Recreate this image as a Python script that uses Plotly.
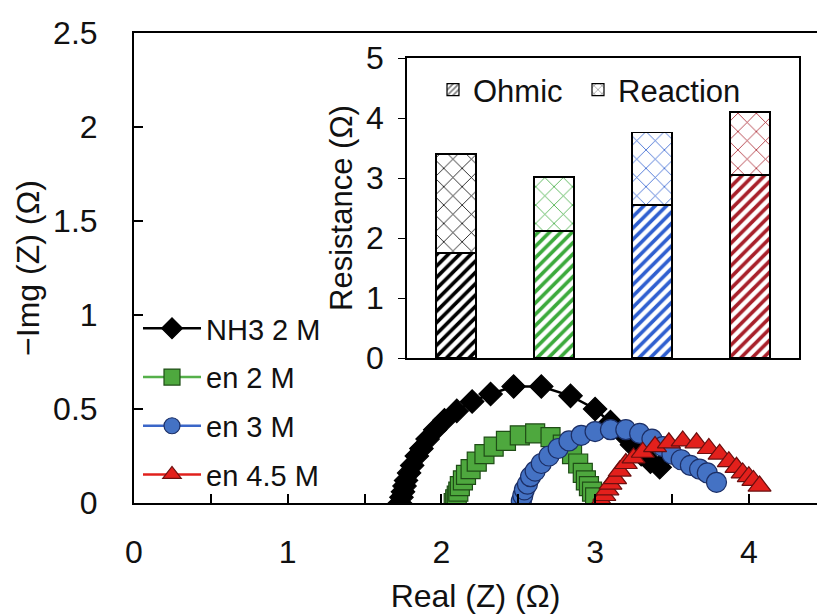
import plotly.graph_objects as go

W, H = 817, 614

# ---------------- data ----------------
series_names = ["NH3 2 M", "en 2 M", "en 3 M", "en 4.5 M"]

nh3_x = [1.73, 1.74, 1.75, 1.76, 1.77, 1.79, 1.81, 1.84, 1.87, 1.91, 1.96, 2.02, 2.10, 2.20, 2.32,
         2.47, 2.65, 2.84, 3.00, 3.10, 3.18, 3.24, 3.30, 3.36, 3.42]
nh3_y = [0.00, 0.03, 0.06, 0.09, 0.12, 0.16, 0.20, 0.25, 0.29, 0.34, 0.39, 0.44, 0.49, 0.54, 0.58,
         0.62, 0.62, 0.57, 0.50, 0.43, 0.37, 0.31, 0.26, 0.22, 0.19]

en2_x = [2.08, 2.09, 2.10, 2.11, 2.12, 2.14, 2.16, 2.19, 2.23, 2.28, 2.34, 2.42, 2.51, 2.61, 2.71,
         2.79, 2.85, 2.89, 2.92, 2.94, 2.96, 2.98, 3.00]
en2_y = [0.00, 0.02, 0.04, 0.06, 0.09, 0.12, 0.15, 0.18, 0.22, 0.26, 0.30, 0.33, 0.36, 0.37, 0.35,
         0.31, 0.26, 0.21, 0.16, 0.12, 0.09, 0.06, 0.03]

en3_x = [2.52, 2.53, 2.54, 2.56, 2.58, 2.61, 2.65, 2.70, 2.76, 2.83, 2.91, 3.00, 3.10, 3.20, 3.29,
         3.37, 3.44, 3.50, 3.56, 3.62, 3.68, 3.73, 3.79]
en3_y = [0.01, 0.04, 0.07, 0.10, 0.14, 0.17, 0.21, 0.25, 0.29, 0.33, 0.36, 0.38, 0.39, 0.39, 0.37,
         0.34, 0.30, 0.26, 0.23, 0.20, 0.18, 0.16, 0.11]

en45_x = [3.04, 3.06, 3.08, 3.10, 3.13, 3.16, 3.20, 3.25, 3.31, 3.39, 3.48, 3.57, 3.66, 3.74, 3.81,
          3.87, 3.92, 3.96, 4.00, 4.03, 4.07]
en45_y = [0.01, 0.04, 0.07, 0.10, 0.13, 0.17, 0.21, 0.24, 0.27, 0.30, 0.32, 0.33, 0.32, 0.29, 0.26,
          0.22, 0.19, 0.16, 0.14, 0.12, 0.09]

ohmic = [1.75, 2.12, 2.55, 3.05]
reaction = [1.65, 0.90, 1.21, 1.05]

main_xticks = [0, 1, 2, 3, 4]
main_yticks = [0, 0.5, 1, 1.5, 2, 2.5]
inset_yticks = [0, 1, 2, 3, 4, 5]

# ---------------- styles ----------------
FONT = "Liberation Sans, Arial, sans-serif"
TXT = "#111111"
line_cols = ["#000000", "#55b04a", "#3a66c8", "#e0201c"]
fill_cols = ["#000000", "#4ea83e", "#4472c4", "#e3201c"]
edge_cols = ["#000000", "#1f4d16", "#1c2f66", "#6b0f0f"]
symbols = ["diamond", "square", "circle", "triangle-up"]
msizes = [18, 19, 20, 20]
bar_cols = ["#000000", "#3caa3c", "#2f5fd0", "#a8202a"]


def px(x):
    return x / W


def py(y):
    return 1 - y / H


fig = go.Figure()

xs = [nh3_x, en2_x, en3_x, en45_x]
ys = [nh3_y, en2_y, en3_y, en45_y]
for i, name in enumerate(series_names):
    fig.add_trace(go.Scatter(
        x=xs[i], y=ys[i], name=name, mode="lines+markers",
        line=dict(color=line_cols[i], width=2.5),
        marker=dict(symbol=symbols[i], size=msizes[i], color=fill_cols[i],
                    line=dict(color=edge_cols[i], width=1.2)),
        legendgroup=name, legend="legend",
    ))

# inset stacked bars
fig.add_trace(go.Bar(
    x=series_names, y=ohmic, xaxis="x2", yaxis="y2", width=0.41, showlegend=False,
    marker=dict(color="white", line=dict(color="black", width=1.5),
                pattern=dict(shape="/", fgcolor=bar_cols, bgcolor="white",
                             size=8, solidity=0.45, fillmode="replace")),
))
fig.add_trace(go.Bar(
    x=series_names, y=reaction, xaxis="x2", yaxis="y2", width=0.41, showlegend=False,
    marker=dict(color="white", line=dict(color="black", width=1.5),
                pattern=dict(shape="x", fgcolor=bar_cols, bgcolor="white",
                             size=13, solidity=0.12, fillmode="replace")),
))
# legend entries for inset (black patterns)
fig.add_trace(go.Bar(
    x=[None], y=[None], xaxis="x2", yaxis="y2", name="Ohmic", legend="legend2",
    marker=dict(color="white", line=dict(color="black", width=1.2),
                pattern=dict(shape="/", fgcolor="black", bgcolor="white", size=5, solidity=0.45)),
))
fig.add_trace(go.Bar(
    x=[None], y=[None], xaxis="x2", yaxis="y2", name="Reaction", legend="legend3",
    marker=dict(color="white", line=dict(color="black", width=1.2),
                pattern=dict(shape="x", fgcolor="black", bgcolor="white", size=7, solidity=0.2)),
))

fig.update_layout(
    width=W, height=H,
    margin=dict(l=0, r=0, t=0, b=0, autoexpand=False),
    paper_bgcolor="white", plot_bgcolor="white",
    font=dict(family=FONT, color=TXT, size=32),
    barmode="stack",
    xaxis=dict(
        domain=[px(134), 1.0], range=[0, (W - 134) / 153.7], automargin=False,
        tickvals=main_xticks, ticks="inside", ticklen=9, tickwidth=1.5, tickcolor="black",
        minor=dict(dtick=0.5, tick0=0, ticks="inside", ticklen=9, tickwidth=1.5, tickcolor="black"),
        showline=True, linecolor="black", linewidth=2, mirror=True,
        showgrid=False, zeroline=False, ticklabelstandoff=20,
        tickfont=dict(size=32),
        title=dict(text="Real (Z) (Ω)", font=dict(size=32), standoff=16),
        anchor="y",
    ),
    yaxis=dict(
        domain=[py(503), py(33)], range=[0, 2.5], automargin=False,
        tickvals=main_yticks, ticktext=["0", "0.5", "1", "1.5", "2", "2.5"],
        ticks="inside", ticklen=9, tickwidth=1.5, tickcolor="black",
        showline=True, linecolor="black", linewidth=2, mirror=False,
        showgrid=False, zeroline=False, ticklabelstandoff=28,
        tickfont=dict(size=32),
        title=dict(text="−Img (Z) (Ω)", font=dict(size=32), standoff=4),
        anchor="x",
    ),
    xaxis2=dict(
        domain=[px(407), px(799)], anchor="y2", range=[-0.5, 3.5], automargin=False,
        showticklabels=False, ticks="", showline=True, linecolor="black", linewidth=1.5,
        mirror=True, showgrid=False, zeroline=False,
    ),
    yaxis2=dict(
        domain=[py(358), py(58)], anchor="x2", range=[0, 5], automargin=False,
        tickvals=inset_yticks, ticks="outside", ticklen=7, tickwidth=1.2, tickcolor="black",
        showline=True, linecolor="black", linewidth=1.5, mirror=True,
        showgrid=False, zeroline=False, ticklabelstandoff=8,
        tickfont=dict(size=32),
        title=dict(text="Resistance (Ω)", font=dict(size=31), standoff=4),
    ),
    legend=dict(
        x=px(138), y=py(303), xanchor="left", yanchor="top",
        bgcolor="rgba(0,0,0,0)", font=dict(size=29, color=TXT),
        traceorder="grouped", tracegroupgap=8, itemwidth=58,
    ),
    legend2=dict(
        x=px(433), y=py(63), xanchor="left", yanchor="top",
        bgcolor="rgba(0,0,0,0)", font=dict(size=31, color=TXT), itemwidth=30,
    ),
    legend3=dict(
        x=px(578), y=py(63), xanchor="left", yanchor="top",
        bgcolor="rgba(0,0,0,0)", font=dict(size=31, color=TXT), itemwidth=30,
    ),
)

fig.write_html("out.html")
